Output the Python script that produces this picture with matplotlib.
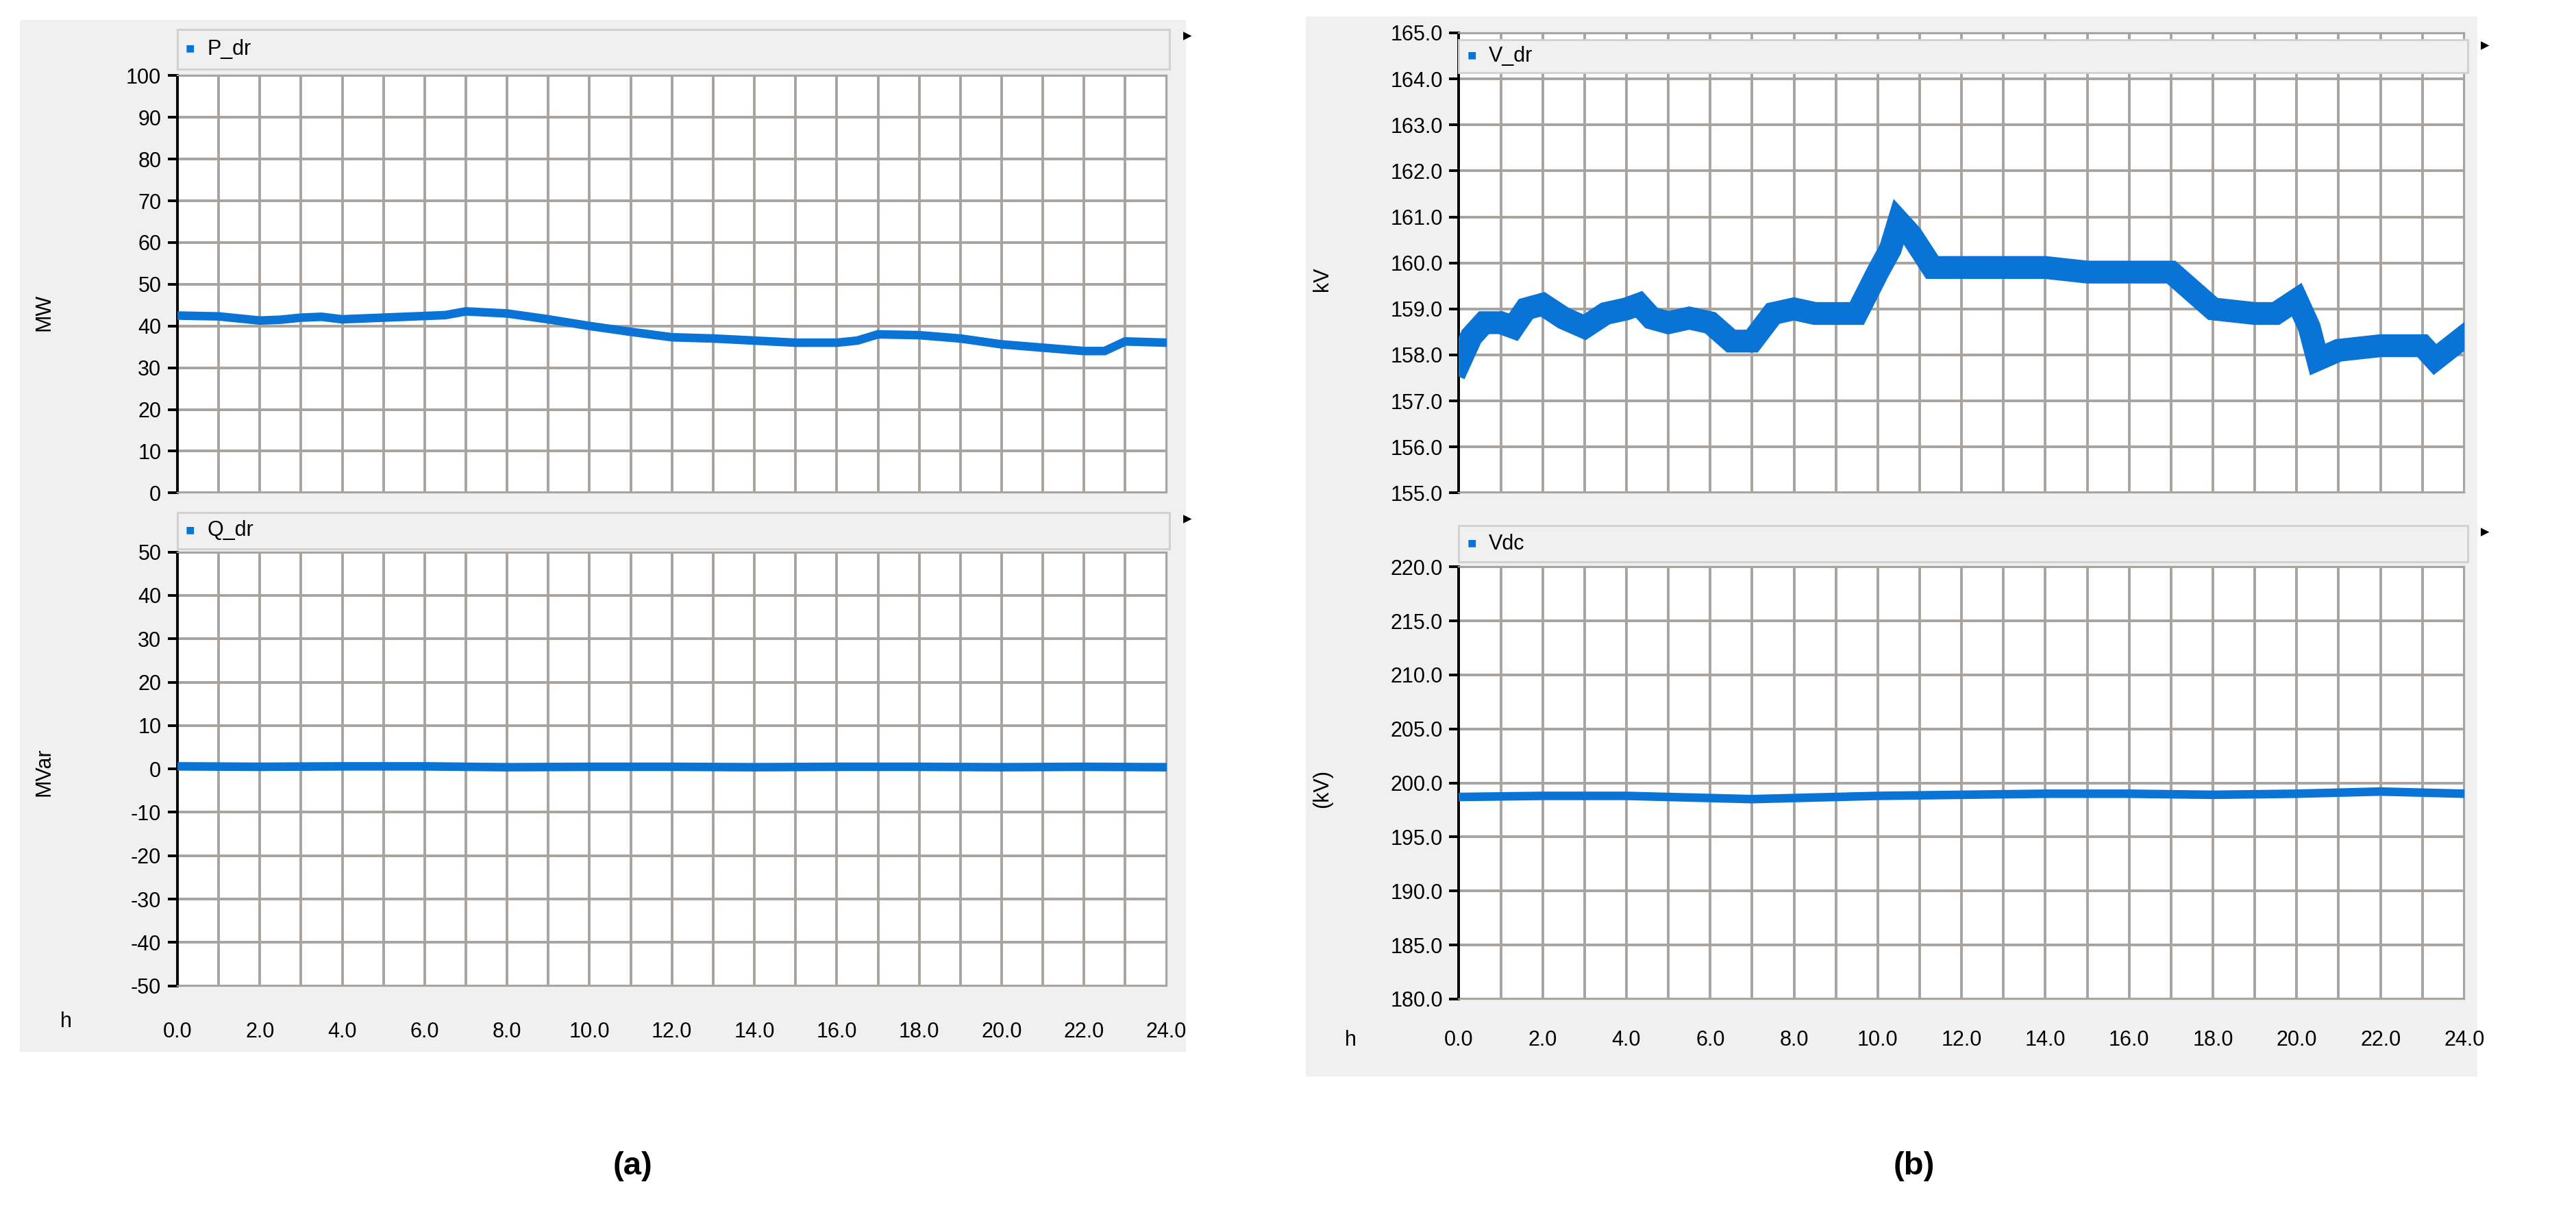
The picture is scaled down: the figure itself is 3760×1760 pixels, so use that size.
import numpy as np
import matplotlib
matplotlib.use("Agg")
import matplotlib.pyplot as plt
import matplotlib.patches as mpatches

W, H = 1568.0, 734.0  # layout measured on the reference at reduced scale
BLUE = "#0a74d6"
GRID = "#a8a39e"
PANEL = "#f0f0f0"

# ---- data (hours, values) ----
p_hours = [0, 1, 2, 2.5, 3, 3.5, 4, 5, 6, 6.5, 7, 8, 9, 10, 11, 12, 13, 14, 15, 16, 16.5, 17, 18, 19, 20, 21, 22, 22.5, 23, 24]
p_dr = [42.5, 42.3, 41.3, 41.5, 42.0, 42.2, 41.6, 42.0, 42.4, 42.6, 43.5, 43.0, 41.6, 40.0, 38.6, 37.3, 37.0, 36.5, 36.0, 36.0, 36.5, 38.0, 37.8, 37.0, 35.6, 34.8, 34.0, 34.0, 36.3, 36.0]

q_hours = [0, 2, 4, 6, 8, 10, 12, 14, 16, 18, 20, 22, 24]
q_dr = [0.6, 0.5, 0.6, 0.6, 0.4, 0.5, 0.5, 0.4, 0.5, 0.5, 0.4, 0.5, 0.4]

v_hours = [0, 0.3, 0.6, 1.0, 1.3, 1.6, 2.0, 2.5, 3.0, 3.5, 4.0, 4.3, 4.6, 5.0, 5.5, 6.0, 6.5, 7.0, 7.5, 8.0,
           8.5, 9.0, 9.5, 10.0, 10.3, 10.5, 10.8, 11.3, 12, 13, 14, 15, 16, 17, 17.5, 18, 19, 19.5, 20,
           20.3, 20.5, 21, 22, 23, 23.3, 24]
v_dr = [157.8, 158.4, 158.7, 158.7, 158.6, 159.0, 159.1, 158.8, 158.6, 158.9, 159.0, 159.1, 158.8, 158.7,
        158.8, 158.7, 158.3, 158.3, 158.9, 159.0, 158.9, 158.9, 158.9, 159.8, 160.3, 160.9, 160.6, 159.9,
        159.9, 159.9, 159.9, 159.8, 159.8, 159.8, 159.4, 159.0, 158.9, 158.9, 159.2, 158.6, 157.9, 158.1,
        158.2, 158.2, 157.9, 158.4]

vdc_hours = [0, 2, 4, 6, 7, 8, 10, 12, 14, 16, 18, 20, 22, 24]
vdc = [198.7, 198.8, 198.8, 198.6, 198.5, 198.6, 198.8, 198.9, 199.0, 199.0, 198.9, 199.0, 199.2, 199.0]


def rect(x0, y0, x1, y1):
    # display coords (top-left origin) -> figure fraction [l, b, w, h]
    return [x0 / W, 1 - y1 / H, (x1 - x0) / W, (y1 - y0) / H]


def fig_box(fig, x0, y0, x1, y1, color, edge="none", z=0):
    l, b, w, h = rect(x0, y0, x1, y1)
    fig.patches.append(mpatches.Rectangle((l, b), w, h, transform=fig.transFigure,
                                          facecolor=color, edgecolor=edge, linewidth=1, zorder=z))


def draw_plot(fig, box, x, y, ylim, yticks, fmt, name, band, lw):
    ax = fig.add_axes(rect(*box))
    ax.set_zorder(1)
    ax.set_facecolor("white")
    ax.plot(x, y, color=BLUE, linewidth=lw, solid_joinstyle="miter", zorder=3)
    ax.set_xlim(0, 24)
    ax.set_ylim(*ylim)
    ax.set_yticks(yticks)
    ax.set_yticklabels([fmt.format(v) for v in yticks])
    ax.set_xticks(np.arange(0, 25, 1))
    ax.set_xticklabels([])
    ax.grid(True, color=GRID, linewidth=1.4)
    for s in ["top", "right", "bottom"]:
        ax.spines[s].set_color(GRID)
    ax.spines["left"].set_color("black")
    ax.spines["left"].set_linewidth(1.4)
    ax.tick_params(axis="y", labelsize=11, length=5, width=1.4, colors="black")
    ax.tick_params(axis="x", length=0)
    # legend strip
    fig_box(fig, box[0], band[0], box[2] + 2, band[1], PANEL, edge="#d0d0d0", z=5)
    fy = 1 - (band[0] + band[1]) / 2 / H
    fig.text((box[0] + 5) / W, fy, "■", color=BLUE, fontsize=8, va="center", zorder=6)
    fig.text((box[0] + 18) / W, fy, name, color="black", fontsize=11, va="center", zorder=6)
    fig.text((box[2] + 10) / W, 1 - band[0] / H - 0.005, "▸", fontsize=9, va="center", zorder=6)
    return ax


def xlabels(fig, box, y):
    for h in range(0, 25, 2):
        xf = (box[0] + (box[2] - box[0]) * h / 24) / W
        fig.text(xf, 1 - y / H, f"{h:.1f}", ha="center", va="center", fontsize=11, zorder=6)


plt.rcParams["font.family"] = ["Liberation Sans", "DejaVu Sans"]
fig = plt.figure(figsize=(18.8, 8.8), dpi=200)
fig.patch.set_facecolor("white")

# panel (a)
fig_box(fig, 12, 12, 722, 640, PANEL, z=-1)
b1 = (108, 46, 710, 300)
b2 = (108, 336, 710, 600)
draw_plot(fig, b1, p_hours, p_dr, (0, 100), list(range(0, 101, 10)), "{:.0f}", "P_dr", (18, 42), 4.5)
draw_plot(fig, b2, q_hours, q_dr, (-50, 50), list(range(-50, 51, 10)), "{:.0f}", "Q_dr", (312, 334), 4.5)
xlabels(fig, b1, 628)
fig.text(27 / W, 1 - 190 / H, "MW", rotation=90, ha="center", va="center", fontsize=11)
fig.text(27 / W, 1 - 470 / H, "MVar", rotation=90, ha="center", va="center", fontsize=11)
fig.text(40 / W, 1 - 622 / H, "h", ha="center", va="center", fontsize=11)

# panel (b)
fig_box(fig, 795, 10, 1508, 655, PANEL, z=-1)
b3 = (888, 20, 1500, 300)
b4 = (888, 345, 1500, 608)
draw_plot(fig, b3, v_hours, v_dr, (155, 165), list(range(155, 166)), "{:.1f}", "V_dr", (24, 44), 12)
draw_plot(fig, b4, vdc_hours, vdc, (180, 220), list(np.arange(180, 221, 5)), "{:.1f}", "Vdc", (320, 342), 4.5)
xlabels(fig, b3, 633)
fig.text(805 / W, 1 - 170 / H, "kV", rotation=90, ha="center", va="center", fontsize=11)
fig.text(805 / W, 1 - 480 / H, "(kV)", rotation=90, ha="center", va="center", fontsize=11)
fig.text(822 / W, 1 - 633 / H, "h", ha="center", va="center", fontsize=11)

fig.text(385 / W, 1 - 710 / H, "(a)", ha="center", va="center", fontsize=17, fontweight="bold")
fig.text(1165 / W, 1 - 710 / H, "(b)", ha="center", va="center", fontsize=17, fontweight="bold")

fig.savefig("out.png", dpi=200, facecolor="white")
